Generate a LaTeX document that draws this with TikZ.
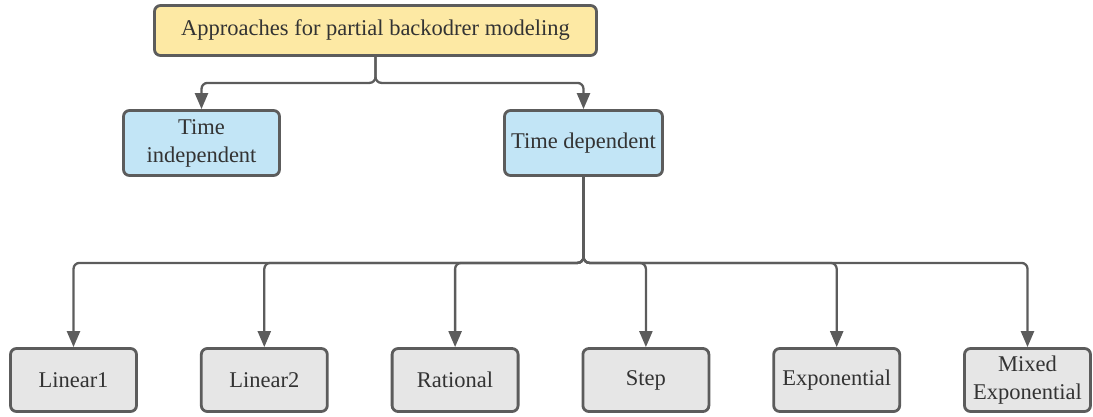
\documentclass[tikz,border=0pt]{standalone}
\usepackage{fontspec}
\setmainfont{Liberation Serif}
\usetikzlibrary{positioning,arrows.meta}

\definecolor{rootfill}{HTML}{FDE9A4}
\definecolor{catfill}{HTML}{C2E5F6}
\definecolor{leaffill}{HTML}{E6E6E6}
\definecolor{edgegray}{HTML}{5C5C5C}
\definecolor{txtgray}{HTML}{333333}

\begin{document}
\begin{tikzpicture}[
    x=1pt, y=-1pt,
    node distance=62pt,
    box/.style={draw=edgegray, line width=2.8pt, rounded corners=6pt,
        text=txtgray, align=center, inner sep=2pt,
        font=\fontsize{22.5}{28}\selectfont},
    rootbox/.style={box, fill=rootfill, minimum width=442pt, minimum height=50pt},
    catbox/.style={box, fill=catfill, minimum height=65pt},
    leafbox/.style={box, fill=leaffill, minimum width=126pt, minimum height=63pt},
    conn/.style={draw=edgegray, line width=2.3pt, rounded corners=6pt,
        -{Triangle[width=13pt,length=16pt]}}
]
    \useasboundingbox (0,0) rectangle (1093,416);

    \node[rootbox] (root) at (375.5,30.5) {Approaches for partial backodrer modeling};
    \node[catbox, minimum width=156pt] (indep) at (201.5,143) {Time\\independent};
    \node[catbox, minimum width=158pt] (dep) at (583.5,143) {Time dependent};

    % the six rate functions
    \node[leafbox] (lin1) at (73.5,380) {Linear1};
    \node[leafbox, right=of lin1] (lin2) {Linear2};
    \node[leafbox, right=of lin2] (rat) {Rational};
    \node[leafbox, right=of rat] (stp) {Step};
    \node[leafbox, right=of stp] (expo) {Exponential};
    \node[leafbox, right=of expo] (mixexp) {Mixed\\Exponential};

    \draw[conn] (root.south) -- ++(0,26) -| (indep.north);
    \draw[conn] (root.south) -- ++(0,26) -| (dep.north);

    \foreach \leaf in {lin1,lin2,rat,stp,expo,mixexp}
        \draw[conn] (dep.south) -- ++(0,86) -| (\leaf.north);
\end{tikzpicture}
\end{document}
